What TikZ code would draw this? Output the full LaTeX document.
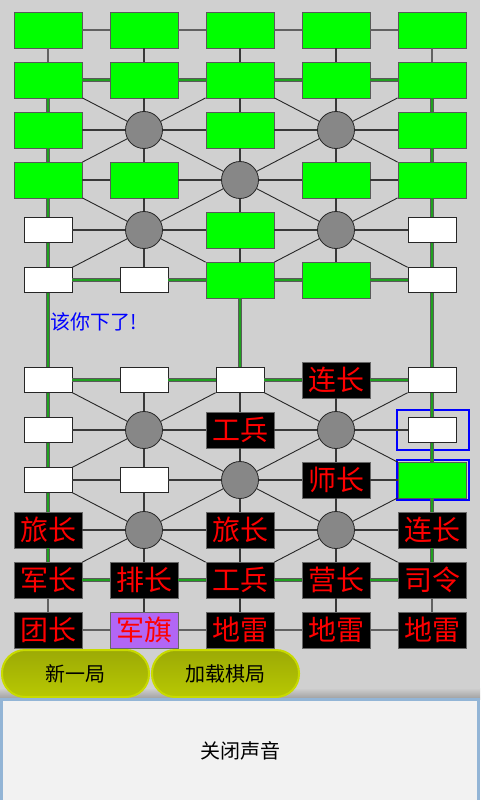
\documentclass[tikz,border=0pt]{standalone}
\usepackage{fontspec}
\newfontfamily\cjk{Noto Sans CJK SC}
\usepackage{xcolor}
\usetikzlibrary{shapes,fit,calc,positioning}
\definecolor{boardgray}{HTML}{D0D0D0}
\definecolor{railgreen}{HTML}{1FA01F}
\definecolor{enemygreen}{HTML}{00FF00}
\definecolor{flagpurple}{HTML}{B266F5}
\definecolor{btntop}{HTML}{9CAA06}
\definecolor{btnmid}{HTML}{879400}
\definecolor{btnbot}{HTML}{B8C802}
\definecolor{btnrim}{HTML}{C8DA00}
\definecolor{panelfill}{HTML}{F2F2F2}
\definecolor{panelrim}{HTML}{93B5D6}

\tikzset{
  unknown/.style={rectangle, fill=enemygreen, draw=black!65, line width=0.8pt, minimum width=68pt, minimum height=36pt, inner sep=0pt},
  vacant/.style={rectangle, fill=white, draw=black!85, line width=0.8pt, minimum width=48pt, minimum height=25pt, inner sep=0pt},
  piece/.style={rectangle, fill=black, draw=black!60, line width=0.8pt, minimum width=68pt, minimum height=36pt, inner sep=0pt, text=red, font=\cjk\fontsize{28}{28}\selectfont},
  flag/.style={piece, fill=flagpurple},
  camp/.style={circle, fill=black!47, draw=black!85, line width=0.8pt, minimum size=37pt, inner sep=0pt},
  road/.style={draw=black!78, line width=1.5pt},
  edgeroad/.style={draw=black!62, line width=1.8pt},
  diag/.style={draw=black!85, line width=0.9pt},
  rail/.style={draw=black!65, line width=0.8pt, double=railgreen, double distance=2.2pt},
  selected/.style={rectangle, draw=blue, line width=2pt, minimum width=72pt, minimum height=40pt, inner sep=0pt},
  btn/.style={rectangle, rounded corners=23pt, minimum width=147pt, minimum height=47pt, top color=btntop, middle color=btnmid, bottom color=btnbot, draw=btnrim, line width=2pt, font=\cjk\fontsize{20}{20}\selectfont},
  soundpanel/.style={rectangle, fill=panelfill, draw=panelrim, line width=3pt, minimum width=477pt, minimum height=103pt, font=\cjk\fontsize{20}{20}\selectfont}
}

\begin{document}
\begin{tikzpicture}[x=1pt,y=-1pt]
      \clip (0,0) rectangle (480,800);
      \fill[boardgray] (0,0) rectangle (480,800);
      % Define nodes
      % enemy side
      \node[unknown] (a1) at (48,30) {}; %
      \node[unknown] (b1) at (144,30) {}; %
      \node[unknown] (c1) at (240,30) {}; %
      \node[unknown] (d1) at (336,30) {}; %
      \node[unknown] (e1) at (432,30) {}; %
      \node[unknown] (a2) at (48,80) {}; %
      \node[unknown] (b2) at (144,80) {}; %
      \node[unknown] (c2) at (240,80) {}; %
      \node[unknown] (d2) at (336,80) {}; %
      \node[unknown] (e2) at (432,80) {}; %
      \node[unknown] (a3) at (48,130) {}; %
      \node[camp] (b3) at (144,130) {}; %
      \node[unknown] (c3) at (240,130) {}; %
      \node[camp] (d3) at (336,130) {}; %
      \node[unknown] (e3) at (432,130) {}; %
      \node[unknown] (a4) at (48,180) {}; %
      \node[unknown] (b4) at (144,180) {}; %
      \node[camp] (c4) at (240,180) {}; %
      \node[unknown] (d4) at (336,180) {}; %
      \node[unknown] (e4) at (432,180) {}; %
      \node[vacant] (a5) at (48,230) {}; %
      \node[camp] (b5) at (144,230) {}; %
      \node[unknown] (c5) at (240,230) {}; %
      \node[camp] (d5) at (336,230) {}; %
      \node[vacant] (e5) at (432,230) {}; %
      \node[vacant] (a6) at (48,280) {}; %
      \node[vacant] (b6) at (144,280) {}; %
      \node[unknown] (c6) at (240,280) {}; %
      \node[unknown] (d6) at (336,280) {}; %
      \node[vacant] (e6) at (432,280) {}; %
      % own side
      \node[vacant] (a7) at (48,380) {}; %
      \node[vacant] (b7) at (144,380) {}; %
      \node[vacant] (c7) at (240,380) {}; %
      \node[piece] (d7) at (336,380) {连长}; %
      \node[vacant] (e7) at (432,380) {}; %
      \node[vacant] (a8) at (48,430) {}; %
      \node[camp] (b8) at (144,430) {}; %
      \node[piece] (c8) at (240,430) {工兵}; %
      \node[camp] (d8) at (336,430) {}; %
      \node[vacant] (e8) at (432,430) {}; %
      \node[vacant] (a9) at (48,480) {}; %
      \node[vacant] (b9) at (144,480) {}; %
      \node[camp] (c9) at (240,480) {}; %
      \node[piece] (d9) at (336,480) {师长}; %
      \node[unknown] (e9) at (432,480) {}; %
      \node[piece] (a10) at (48,530) {旅长}; %
      \node[camp] (b10) at (144,530) {}; %
      \node[piece] (c10) at (240,530) {旅长}; %
      \node[camp] (d10) at (336,530) {}; %
      \node[piece] (e10) at (432,530) {连长}; %
      \node[piece] (a11) at (48,580) {军长}; %
      \node[piece] (b11) at (144,580) {排长}; %
      \node[piece] (c11) at (240,580) {工兵}; %
      \node[piece] (d11) at (336,580) {营长}; %
      \node[piece] (e11) at (432,580) {司令}; %
      \node[piece] (a12) at (48,630) {团长}; %
      \node[flag] (b12) at (144,630) {军旗}; %
      \node[piece] (c12) at (240,630) {地雷}; %
      \node[piece] (d12) at (336,630) {地雷}; %
      \node[piece] (e12) at (432,630) {地雷}; %
      \node[selected] (sel1) at (432.5,430) {}; %
      \node[selected] (sel2) at (432.5,480) {}; %
      \node[anchor=west, inner sep=0pt, text=blue, font=\cjk\fontsize{20}{20}\selectfont] (turn) at (50,322) {该你下了!}; %
      %% add roads
      \draw[edgeroad] (a1) -- (b1) -- (c1) -- (d1) -- (e1);
      \draw[edgeroad] (a1) -- (a2) (e1) -- (e2);
      \draw[road] (b1) -- (b2) (c1) -- (c2) (d1) -- (d2);
      \draw[road] (a3) -- (b3) -- (c3) -- (d3) -- (e3);
      \draw[road] (a4) -- (b4) -- (c4) -- (d4) -- (e4);
      \draw[road] (a5) -- (b5) -- (c5) -- (d5) -- (e5);
      \draw[road] (b2) -- (b3) -- (b4) -- (b5) -- (b6);
      \draw[road] (c2) -- (c3) -- (c4) -- (c5) -- (c6);
      \draw[road] (d2) -- (d3) -- (d4) -- (d5) -- (d6);
      \draw[road] (a8) -- (b8) -- (c8) -- (d8) -- (e8);
      \draw[road] (a9) -- (b9) -- (c9) -- (d9) -- (e9);
      \draw[road] (a10) -- (b10) -- (c10) -- (d10) -- (e10);
      \draw[road] (b7) -- (b8) -- (b9) -- (b10) -- (b11) -- (b12);
      \draw[road] (c7) -- (c8) -- (c9) -- (c10) -- (c11) -- (c12);
      \draw[road] (d7) -- (d8) -- (d9) -- (d10) -- (d11) -- (d12);
      \draw[edgeroad] (a12) -- (b12) -- (c12) -- (d12) -- (e12);
      \draw[edgeroad] (a11) -- (a12) (e11) -- (e12);
      %% add camp diagonals
      \draw[diag] (a2) -- (b3) -- (c4) -- (d5) -- (e6);
      \draw[diag] (e2) -- (d3) -- (c4) -- (b5) -- (a6);
      \draw[diag] (a4) -- (b3) -- (c2) -- (d3) -- (e4);
      \draw[diag] (a4) -- (b5) -- (c6) -- (d5) -- (e4);
      \draw[diag] (a7) -- (b8) -- (c9) -- (d10) -- (e11);
      \draw[diag] (e7) -- (d8) -- (c9) -- (b10) -- (a11);
      \draw[diag] (a9) -- (b8) -- (c7) -- (d8) -- (e9);
      \draw[diag] (a9) -- (b10) -- (c11) -- (d10) -- (e9);
      %% add railways
      \draw[rail] (a2) -- (b2) -- (c2) -- (d2) -- (e2);
      \draw[rail] (a6) -- (b6) -- (c6) -- (d6) -- (e6);
      \draw[rail] (a7) -- (b7) -- (c7) -- (d7) -- (e7);
      \draw[rail] (a11) -- (b11) -- (c11) -- (d11) -- (e11);
      \draw[rail] (a2) -- (a3) -- (a4) -- (a5) -- (a6) -- (a7) -- (a8) -- (a9) -- (a10) -- (a11);
      \draw[rail] (e2) -- (e3) -- (e4) -- (e5) -- (e6) -- (e7) -- (e8) -- (e9) -- (e10) -- (e11);
      \draw[rail] (c6) -- (c7);
      % buttons and panel
      \shade[top color=boardgray, bottom color=black!38] (0,688) rectangle (480,699);
      \node[btn] (newgame) at (75.5,673.5) {新一局}; %
      \node[btn] (loadgame) at (225.5,673.5) {加载棋局}; %
      \node[soundpanel] (sound) at (240,751) {关闭声音}; %
\end{tikzpicture}
\end{document}
